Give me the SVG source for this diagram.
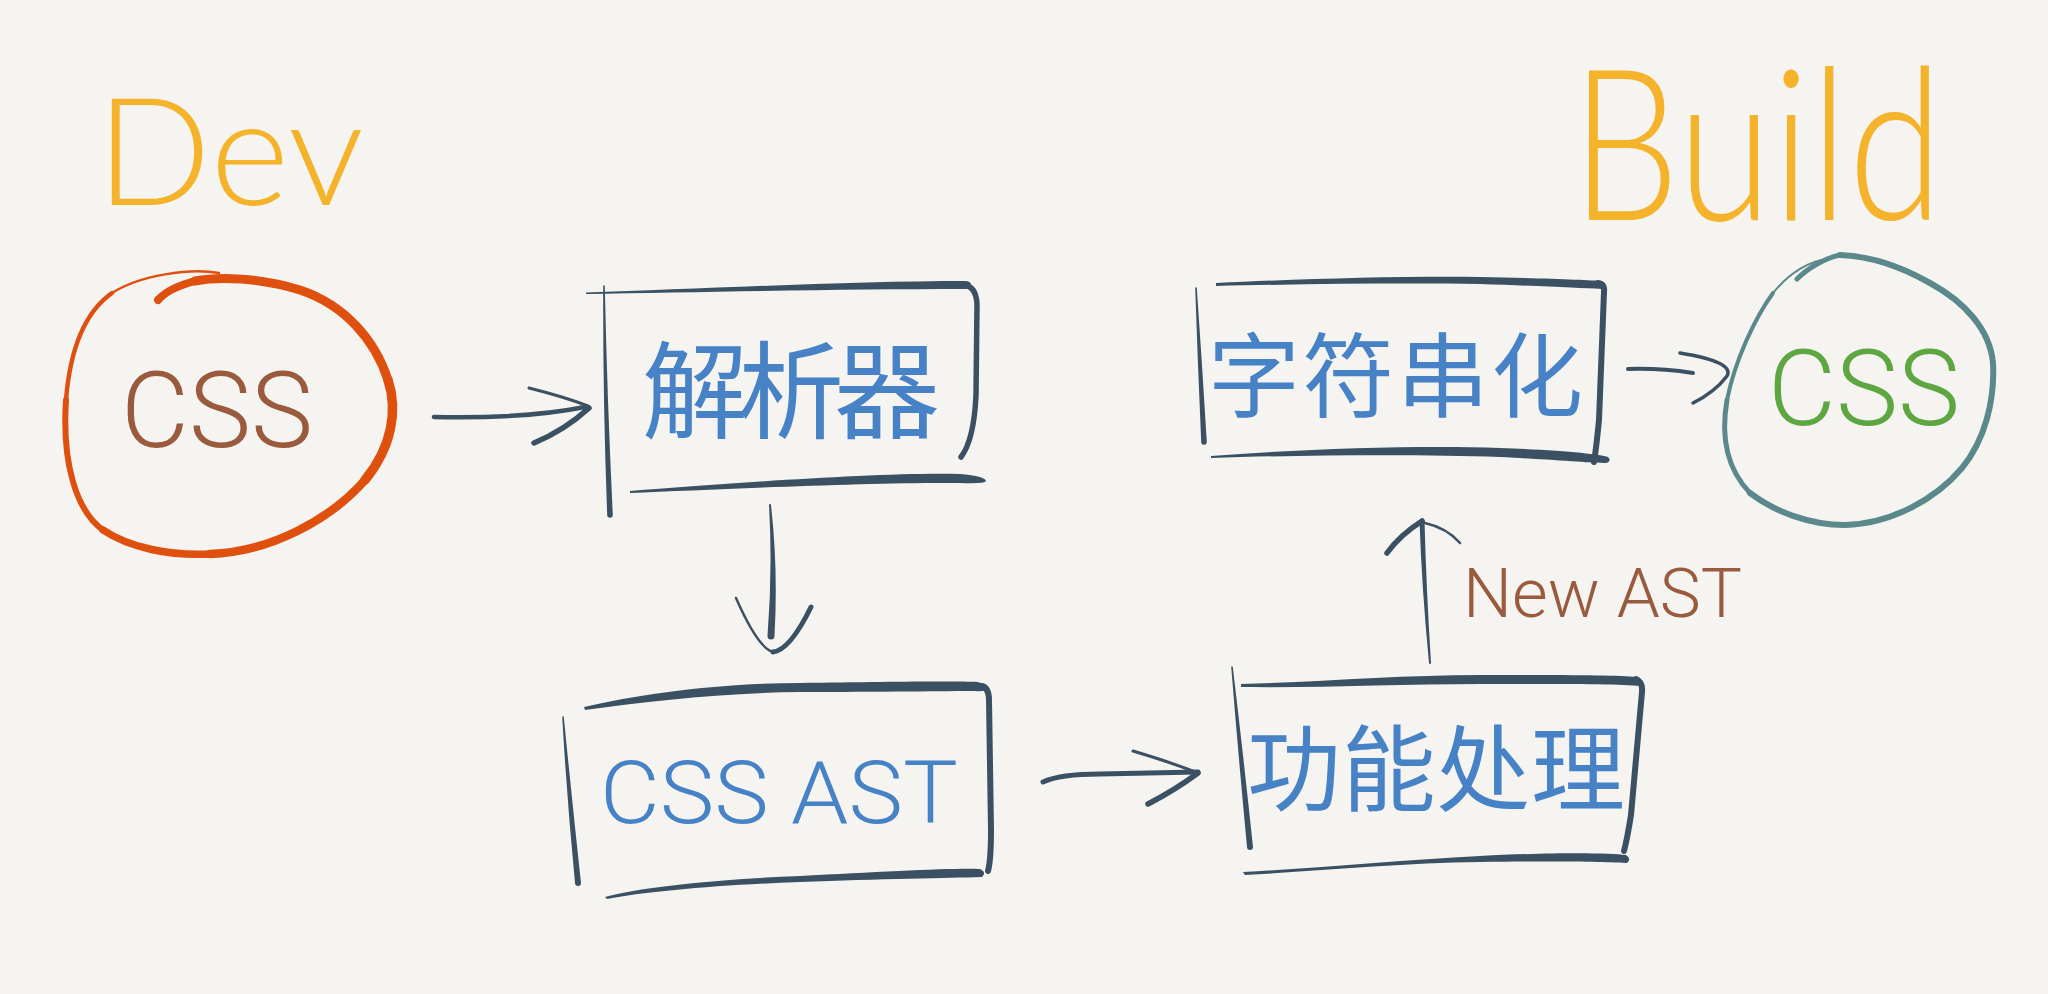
<svg xmlns="http://www.w3.org/2000/svg" width="2048" height="994" viewBox="0 0 2048 994">
<style>
.ink{fill:#3B5163}
.inkS{fill:none;stroke:#3B5163;stroke-linecap:round;stroke-linejoin:round}
.title{font-family:Lato,"Open Sans","Liberation Sans",sans-serif;font-weight:300;fill:#F5B22B}
.lat{font-family:Roboto,"Liberation Sans",sans-serif;font-weight:300}
.cjk{font-family:"Noto Sans CJK SC","Noto Sans CJK JP",sans-serif;fill:#4682C5}
.orange{fill:none;stroke:#DF500F;stroke-linecap:round;stroke-linejoin:round}
.teal{fill:none;stroke:#5A888B;stroke-linecap:round;stroke-linejoin:round}
</style>
<rect width="2048" height="994" fill="#F5F4F0"/>

<g id="title-dev">
<text class="title" x="96" y="205" font-size="150" textLength="268" lengthAdjust="spacingAndGlyphs">Dev</text>
</g>
<g id="title-build">
<text class="title" x="1571" y="220" font-size="211" textLength="372" lengthAdjust="spacingAndGlyphs">Build</text>
</g>

<g id="css-source">
<path class="orange" stroke-width="2.5" d="M219,273 C190,268 140,275 112,293"/>
<path class="orange" stroke-width="4.5" d="M112,293 C85,312 70,350 66,400"/>
<path class="orange" stroke-width="6" d="M66,400 C62,460 75,510 103,530"/>
<path class="orange" stroke-width="7.5" d="M103,530 C130,548 170,556 210,554"/>
<path class="orange" stroke-width="8.5" d="M210,554 C270,552 330,520 365,480"/>
<path class="orange" stroke-width="9.5" d="M365,480 C392,447 398,410 388,380"/>
<path class="orange" stroke-width="9" d="M388,380 C375,340 345,305 300,290 C260,278 220,276 195,281"/>
<path class="orange" stroke-width="8" d="M195,281 C180,285 165,292 158,300"/>
<text class="lat" x="121" y="447" font-size="105" fill="#9A5A3E" textLength="192" lengthAdjust="spacingAndGlyphs">CSS</text>
</g>

<g id="parser">
<path class="ink" d="M586,292.5 C700,289 850,281 965,281 Q971,281 971,285 Q971,289 965,289 C850,289 700,292 586,294 Z"/>
<path class="inkS" stroke-width="5.5" d="M962,285 Q976,285 977,304 L976,395 Q974,440 961,457"/>
<path class="ink" d="M603.2,286 Q602.8,399.5 607.2,515 A2.8,2.8 0 0 0 612.8,515 Q607.2,399.5 604.8,286 A0.8,0.8 0 0 0 603.2,286 Z"/>
<path class="ink" d="M630,491 C720,484 880,472 960,474 Q985,476 986,481 Q985,484 960,483 C880,482 720,489 630,493 Z"/>
<text class="cjk" x="642" y="430" font-size="106" textLength="298">解析器</text>
</g>

<g id="css-ast">
<path class="ink" d="M584,707 C640,694 720,683 800,683 C880,682 950,681 978,682 Q986,684 986,690 Q982,692 975,691 C950,691 880,692 800,692 C720,693 650,701 585,710 Z"/>
<path class="inkS" stroke-width="6" d="M982,686 Q989,688 989,700 L991,830 Q991,860 988,871"/>
<path class="ink" d="M562.2,717 Q567,800 575,883 A3,3 0 0 0 581,883 Q572,800 563.8,717 A0.8,0.8 0 0 0 562.2,717 Z"/>
<path class="ink" d="M605,897 C640,887 720,879 800,876 C880,872 950,868 980,869 Q987,872 982,877 C950,878 880,879 800,882 C720,885 650,891 607,899 Z"/>
<text class="lat" x="600" y="823" font-size="87" fill="#4682C5" textLength="358" lengthAdjust="spacingAndGlyphs">CSS AST</text>
</g>

<g id="transform">
<path class="ink" d="M1241,684 C1320,682 1400,675 1480,675 C1560,675 1620,675 1636,677 Q1643,680 1640,686 C1620,684 1560,684 1480,684 C1400,684 1320,688 1241,687 Z"/>
<path class="inkS" stroke-width="6" d="M1636,679 Q1643,682 1642,692 L1631,815 Q1627,840 1624,851"/>
<path class="ink" d="M1231.2,667 Q1238.5,757 1247,847 A3,3 0 0 0 1253,847 Q1243.5,757 1232.8,667 A0.8,0.8 0 0 0 1231.2,667 Z"/>
<path class="ink" d="M1243,872 C1320,868 1400,860 1480,856 C1560,852 1610,853 1626,855 Q1632,859 1627,863 C1600,862 1560,861 1480,862 C1400,863 1320,871 1245,875 Z"/>
<text class="cjk" x="1247" y="804" font-size="94" textLength="378">功能处理</text>
</g>

<g id="stringify">
<path class="ink" d="M1216,283 C1300,279 1400,276 1480,277 C1540,278 1590,280 1602,281 Q1606,285 1602,289 C1580,288 1540,286 1480,284 C1400,283 1300,284 1216,286 Z"/>
<path class="inkS" stroke-width="6" d="M1598,283 Q1605,284 1604,292 L1599,420 Q1596,450 1594,462"/>
<path class="ink" d="M1195.2,288 Q1197.8,365 1201.2,442 A2.8,2.8 0 0 0 1206.8,442 Q1202.2,365 1196.8,288 A0.8,0.8 0 0 0 1195.2,288 Z"/>
<path class="ink" d="M1211,456 C1300,449 1420,445 1500,448 C1560,450 1600,454 1608,457 Q1612,461 1606,463 C1590,463 1560,460 1500,457 C1420,454 1300,455 1211,458 Z"/>
<text class="cjk" x="1208" y="410" font-size="92" textLength="375">字符串化</text>
</g>

<g id="css-output">
<path class="teal" stroke-width="2" d="M1827,259 C1810,261 1790,272 1773,293"/>
<path class="teal" stroke-width="4" d="M1773,293 C1755,318 1735,360 1727,400"/>
<path class="teal" stroke-width="5" d="M1727,400 C1720,440 1728,470 1750,493"/>
<path class="teal" stroke-width="6" d="M1750,493 C1775,512 1810,525 1845,525 C1890,524 1935,500 1962,468 C1985,440 1995,400 1993,363"/>
<path class="teal" stroke-width="6" d="M1993,363 C1990,330 1965,302 1930,283 C1900,266 1870,256 1840,255"/>
<path class="teal" stroke-width="5" d="M1840,255 C1825,258 1808,268 1797,279"/>
<text class="lat" x="1768" y="425" font-size="105" fill="#5EA641" textLength="192" lengthAdjust="spacingAndGlyphs">CSS</text>
</g>

<g id="connectors">
<g id="edge-source-parser">
<path class="inkS" stroke-width="4.5" d="M434,417 C480,418 540,416 585,407"/>
<path class="inkS" stroke-width="3" d="M529,388 Q565,397 588,406"/>
<path class="inkS" stroke-width="5.5" d="M589,408 Q565,430 534,443"/>
</g>
<g id="edge-parser-ast">
<path class="ink" d="M769,505 Q772.75,569.5 767.5,636 A3.5,3.5 0 0 0 774.5,636 Q778.25,569.5 771,505 A1,1 0 0 0 769,505 Z"/>
<path class="inkS" stroke-width="2.5" d="M736,598 Q758,648 773,652"/>
<path class="inkS" stroke-width="5" d="M773,652 Q790,650 811,607"/>
</g>
<g id="edge-ast-transform">
<path class="inkS" stroke-width="5" d="M1043,782 Q1060,774 1100,774 L1198,772"/>
<path class="inkS" stroke-width="3" d="M1133,751 Q1170,762 1198,773"/>
<path class="inkS" stroke-width="5.5" d="M1198,773 Q1175,790 1148,804"/>
</g>
<g id="edge-transform-stringify">
<path class="ink" d="M1419.5,521 Q1421.75,588 1429,663 A1,1 0 0 0 1431,663 Q1426.25,588 1424.5,521 A2.5,2.5 0 0 0 1419.5,521 Z"/>
<path class="inkS" stroke-width="5.5" d="M1387,553 Q1400,535 1422,521"/>
<path class="inkS" stroke-width="2.5" d="M1425,523 Q1447,528 1460,543"/>
<text class="lat" x="1463" y="617" font-size="68" fill="#9A5A3E" textLength="279" lengthAdjust="spacingAndGlyphs">New AST</text>
</g>
<g id="edge-stringify-output">
<path class="inkS" stroke-width="4" d="M1628,369 Q1660,368 1693,373"/>
<path class="inkS" stroke-width="3.5" d="M1680,353 Q1735,362 1727,376 Q1715,392 1693,403"/>
</g>
</g>
</svg>
